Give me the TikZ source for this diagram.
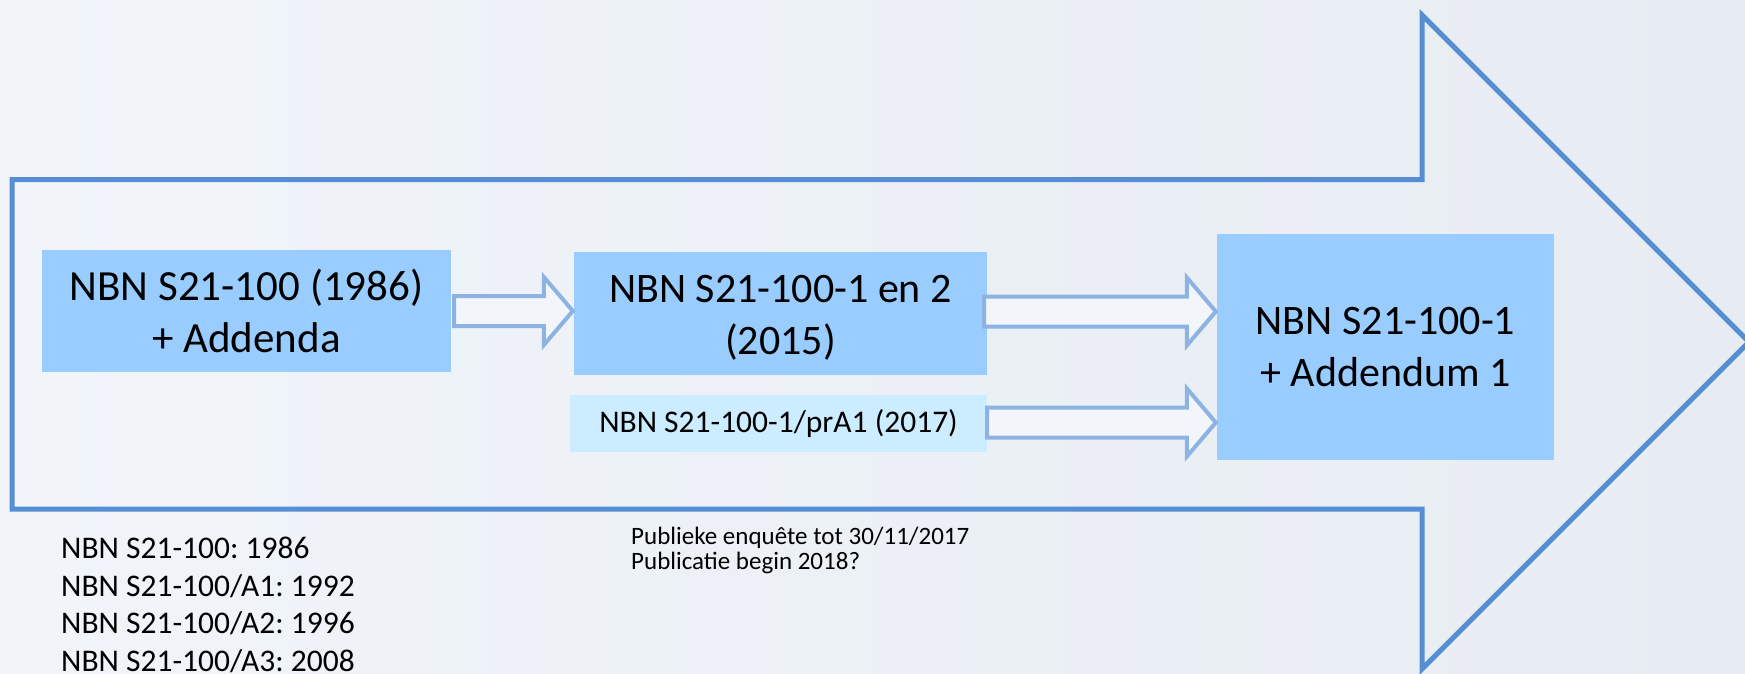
\documentclass[tikz,border=0pt]{standalone}
\usepackage{fontspec}
\setmainfont{Carlito}
\usetikzlibrary{calc}
\frenchspacing
\definecolor{bgL}{HTML}{F1F5FA}
\definecolor{bgR}{HTML}{E7ECF2}
\definecolor{outline}{HTML}{558ED5}
\definecolor{boxblue}{HTML}{99CCFF}
\definecolor{boxlight}{HTML}{CCECFF}
\definecolor{arrowline}{HTML}{8DB3E2}
\definecolor{arrowfill}{HTML}{F2F6FA}
\newcommand{\myblockarrow}[2]{%
  \draw[blockarrow] let \p1=(#1), \p2=(#2) in
    (\x1,\y1+15pt) -- (\x2-30pt,\y1+15pt) -- (\x2-30pt,\y1+34pt) -- (\x2-1pt,\y1)
    -- (\x2-30pt,\y1-34pt) -- (\x2-30pt,\y1-15pt) -- (\x1,\y1-15pt) -- cycle;}
\begin{document}
\begin{tikzpicture}[x=1pt,y=-1pt,
  bigbox/.style={fill=boxblue, inner sep=0pt, align=center, font=\fontsize{42}{52}\selectfont},
  smallbox/.style={fill=boxlight, inner sep=0pt, align=center, font=\fontsize{31.5}{38}\selectfont},
  note/.style={inner sep=0pt, align=left, anchor=north west},
  blockarrow/.style={draw=arrowline, line width=4pt, fill=arrowfill, line join=miter},
  frame/.style={draw=outline, line width=5pt, line join=miter}]
\fill[left color=bgL, right color=bgR] (0,0) rectangle (1745,674);
\useasboundingbox (0,0) rectangle (1745,674);
\draw[frame] (12,179.5) -- (1422,179.5) -- (1422,15) -- (1749,342) -- (1422,669) -- (1422,509) -- (12,509) -- cycle;

\node[bigbox, font=\fontsize{43}{52}\selectfont, minimum width=409pt, minimum height=122pt] (b1) at (246.5,311) {NBN S21-100 (1986)\\+ Addenda};
\node[bigbox, minimum width=413pt, minimum height=123pt] (b2) at (780.5,313.5) {\rule{0pt}{36pt}NBN S21-100-1 en 2\\(2015)};
\node[smallbox, minimum width=417pt, minimum height=57pt] (b3) at (778.5,423.5) {NBN S21-100-1/prA1 (2017)};
\node[bigbox, minimum width=337pt, minimum height=226pt] (b4) at (1385.5,347) {NBN S21-100-1\\+ Addendum 1};

\coordinate (a1s) at ($(b1.east)+(3,0)$);
\coordinate (a1e) at (b2.west |- a1s);
\coordinate (a2s) at ($(b2.east)+(-3,-2)$);
\coordinate (a2e) at (b4.west |- a2s);
\coordinate (a3s) at ($(b3.east)+(0,-1)$);
\coordinate (a3e) at (b4.west |- a3s);
\myblockarrow{a1s}{a1e}
\myblockarrow{a2s}{a2e}
\myblockarrow{a3s}{a3e}

\node[note, font=\fontsize{31.5}{37.5}\selectfont] (n1) at (61,537) {NBN S21-100: 1986\\NBN S21-100/A1: 1992\\NBN S21-100/A2: 1996\\NBN S21-100/A3: 2008};
\node[note, font=\fontsize{25}{24.5}\selectfont] (n2) at (631,527) {Publieke enquête tot 30/11/2017\\Publicatie begin 2018?};
\end{tikzpicture}
\end{document}
